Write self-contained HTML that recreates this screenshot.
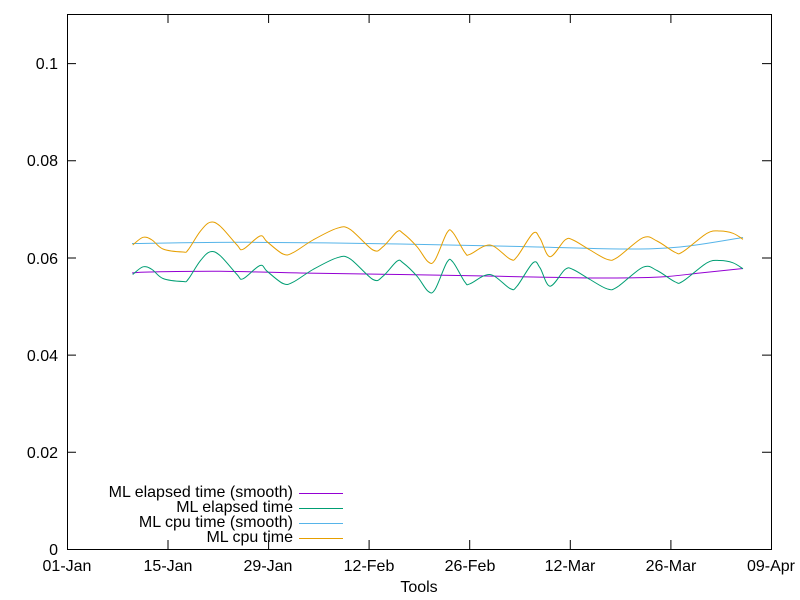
<!DOCTYPE html>
<html><head><style>body{margin:0;background:#fff}svg{display:block}text{font-family:"Liberation Sans",sans-serif;font-size:16px;fill:#000}</style></head><body>
<svg width="800" height="600" viewBox="0 0 800 600">
<rect x="67.5" y="14.5" width="704" height="535" fill="none" stroke="#000" stroke-width="1"/>
<g stroke="#000" stroke-width="1">
<path d="M67 549.5h9M771 549.5h-9M67 452.3h9M771 452.3h-9M67 355.1h9M771 355.1h-9M67 258h9M771 258h-9M67 160.8h9M771 160.8h-9M67 63.6h9M771 63.6h-9"/>
<path d="M67.5 549v-9M67.5 14v9M168 549v-9M168 14v9M268.6 549v-9M268.6 14v9M369.1 549v-9M369.1 14v9M469.7 549v-9M469.7 14v9M570.3 549v-9M570.3 14v9M670.9 549v-9M670.9 14v9M771.5 549v-9M771.5 14v9"/>
</g>
<g text-anchor="end">
<text x="58" y="555">0</text><text x="58" y="458">0.02</text><text x="58" y="361">0.04</text><text x="58" y="264">0.06</text><text x="58" y="166">0.08</text><text x="58" y="69">0.1</text>
</g>
<g text-anchor="middle">
<text x="67" y="571">01-Jan</text><text x="168" y="571">15-Jan</text><text x="268" y="571">29-Jan</text><text x="369" y="571">12-Feb</text><text x="470" y="571">26-Feb</text><text x="570" y="571">12-Mar</text><text x="671" y="571">26-Mar</text><text x="771" y="571">09-Apr</text>
<text x="419" y="592">Tools</text>
</g>
<g fill="none" stroke-width="1" stroke-linejoin="round">
<path class="c" stroke="#9400d3" data-p="132,273 150,272 220,271.3 300,273 400,274.5 500,276.3 600,278 660,277 700,273 743,268.5"/>
<path class="c" stroke="#56b4e9" data-p="132,243.5 250,242.3 400,244 520,246.5 620,249 680,247 743,237.5"/>
<path class="c" stroke="#e69f00" data-p="132.7,245 143,237.3 152,240 163,249 183,252 188,250 200,231.7 210,222.3 220,226 237,245 243,249.3 260,236 267,241.7 283,254 293,252.7 313,240 337,228.3 350,229.3 373,250 383,246.7 397,231.7 403,233.3 417,246.7 428,261.7 435,260 447,232.7 453,232.7 465,252.7 470,254.3 490,245 510,259 517,256.7 533,233.3 540,238.3 550,256.7 565,240 573,240 590,250 607,259.3 617,257.7 643,237.7 657,241 675,252.3 683,251.7 707,233.3 720,231 733,233.3 743,239.3"/>
<path class="c" stroke="#009e73" data-o="29.5" data-p="132.7,245 143,237.3 152,240 163,249 183,252 188,250 200,231.7 210,222.3 220,226 237,245 243,249.3 260,236 267,241.7 283,254 293,252.7 313,240 337,228.3 350,229.3 373,250 383,246.7 397,231.7 403,233.3 417,246.7 428,261.7 435,260 447,232.7 453,232.7 465,252.7 470,254.3 490,245 510,259 517,256.7 533,233.3 540,238.3 550,256.7 565,240 573,240 590,250 607,259.3 617,257.7 643,237.7 657,241 675,252.3 683,251.7 707,233.3 720,231 733,233.3 743,239.3"/>
<line x1="299" y1="493.5" x2="343" y2="493.5" stroke="#9400d3"/>
<line x1="299" y1="508.5" x2="343" y2="508.5" stroke="#009e73"/>
<line x1="299" y1="523.5" x2="343" y2="523.5" stroke="#56b4e9"/>
<line x1="299" y1="538.5" x2="343" y2="538.5" stroke="#e69f00"/>
</g>
<g text-anchor="end" style="font-size:16.2px">
<text x="293" y="497">ML elapsed time (smooth)</text>
<text x="293" y="512">ML elapsed time</text>
<text x="293" y="527">ML cpu time (smooth)</text>
<text x="293" y="542">ML cpu time</text>
</g>
</svg>
<script>
document.querySelectorAll('path.c').forEach(function(el){
 var o=parseFloat(el.getAttribute('data-o')||0);
 var p=el.getAttribute('data-p').trim().split(/\s+/).map(function(s){var a=s.split(',');return [+a[0],+a[1]+o];});
 var d='M'+p[0][0]+' '+p[0][1];
 for(var i=0;i<p.length-1;i++){
  var p0=p[i-1]||p[i],p1=p[i],p2=p[i+1],p3=p[i+2]||p2;
  var c1x=p1[0]+(p2[0]-p0[0])/6,c1y=p1[1]+(p2[1]-p0[1])/6;
  var c2x=p2[0]-(p3[0]-p1[0])/6,c2y=p2[1]-(p3[1]-p1[1])/6;
  d+='C'+c1x.toFixed(2)+' '+c1y.toFixed(2)+' '+c2x.toFixed(2)+' '+c2y.toFixed(2)+' '+p2[0]+' '+p2[1];
 }
 el.setAttribute('d',d);
});
</script>
</body></html>
